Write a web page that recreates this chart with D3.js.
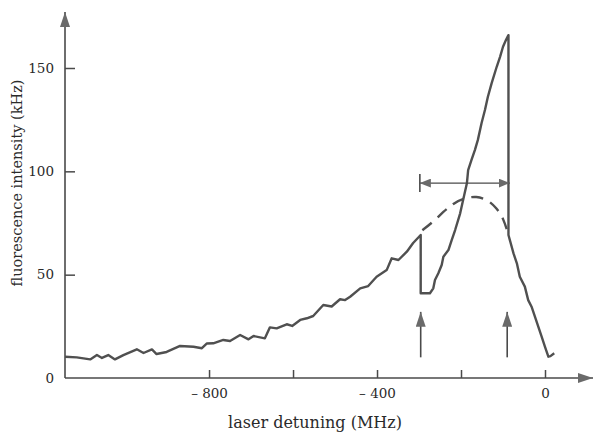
<!DOCTYPE html>
<html>
<head>
<meta charset="utf-8">
<script src="https://cdn.jsdelivr.net/npm/d3@7"></script>
<style>
	body { margin: 0; background: #fff; }
	svg text { font-family: "DejaVu Serif", "Liberation Serif", serif; fill: #2a2a2a; }
</style>
</head>
<body>
<svg id="chart" width="594" height="434"></svg>
<script>
// detuning in MHz, fluorescence in kHz
var detuning = [-1143, -1115, -1083, -1067, -1055, -1040, -1024, -1004, -972, -956, -936, -925, -901, -869, -837, -817, -805, -790, -766, -750, -726, -706, -694, -667, -655, -639, -615, -602, -583, -567, -552, -528, -508, -488, -476, -464, -440, -421, -401, -377, -365, -349, -329, -314, -296,
	-296, -274, -266, -262, -254, -246, -242, -230, -222, -214, -202, -195, -186, -183, -175, -167, -160, -151, -143, -136, -127, -115, -107, -100, -93, -87,
	-87, -75, -67, -60, -48, -40, -32, -24, -16, -8, 0, 8, 13, 22];
var intensity = [10.3, 10.0, 9.0, 11.1, 9.7, 11.1, 9.0, 11.1, 13.9, 12.1, 13.8, 11.6, 12.6, 15.5, 15.1, 14.4, 16.7, 16.8, 18.4, 17.9, 20.8, 18.7, 20.3, 19.2, 24.5, 24.0, 26.0, 25.2, 28.1, 28.9, 30.0, 35.3, 34.6, 38.1, 37.7, 39.3, 43.4, 44.5, 49.0, 52.2, 57.9, 57.1, 61.1, 65.3, 69.2,
	41.0, 41.0, 43.4, 47.4, 50.7, 54.7, 58.7, 61.9, 66.8, 71.6, 79.7, 86.1, 94.2, 100.6, 105.5, 110.3, 115.1, 123.4, 129.7, 136.1, 142.7, 150.6, 155.4, 160.3, 163.5, 165.9,
	69.2, 60.3, 55.5, 49.0, 44.2, 37.7, 34.5, 29.7, 24.8, 20.0, 15.1, 10.3, 10.6, 12.0];

// dashed curve bridging the two jumps
var dashDetuning = [-292, -266, -242, -218, -195, -163, -135, -115, -99, -87];
var dashIntensity = [71.5, 75.6, 80.5, 84.5, 86.9, 88.1, 86.1, 82.1, 77.3, 69.2];

// width marker and the two jump arrows
var spanEnds = [-298, -84];
var spanLevel = 94.3;
var jumpArrows = [-296, -90];
var jumpFrom = 10, jumpTo = 32;

var xTicks = [-800, -600, -400, -200, 0];
var yTicks = [0, 50, 100, 150];

var svg = d3.select("#chart");
var ink = "#4a4a4a";

var x = d3.scaleLinear().domain([-1143, 0]).range([65, 545]);
var y = d3.scaleLinear().domain([0, 150]).range([378, 68]);

var defs = svg.append("defs");
function arrowHead(id, w, h, fill) {
	defs.append("marker")
		.attr("id", id)
		.attr("viewBox", "0 0 " + h + " " + w)
		.attr("refX", h).attr("refY", w / 2)
		.attr("markerWidth", h).attr("markerHeight", w)
		.attr("markerUnits", "userSpaceOnUse")
		.attr("orient", "auto-start-reverse")
		.append("path")
		.attr("d", "M0,0 L" + h + "," + (w / 2) + " L0," + w + " Z")
		.attr("fill", fill);
}
arrowHead("axisHead", 10, 15, "#6a6a6a");
arrowHead("smallHead", 9, 11, "#6a6a6a");

// axes lines with arrows
svg.append("line")
	.attr("x1", 65).attr("y1", y(0)).attr("x2", 65).attr("y2", 12)
	.attr("stroke", ink).attr("stroke-width", 1.6)
	.attr("marker-end", "url(#axisHead)");
svg.append("line")
	.attr("x1", 65).attr("y1", y(0)).attr("x2", 593).attr("y2", y(0))
	.attr("stroke", ink).attr("stroke-width", 1.6)
	.attr("marker-end", "url(#axisHead)");

var xAxis = svg.append("g")
	.attr("transform", "translate(0," + y(0) + ")")
	.call(d3.axisBottom(x).tickValues(xTicks).tickSize(-8).tickPadding(10)
		.tickFormat(function (d) {
			if (d % 400 != 0) return "";
			return d < 0 ? "\u2013 " + Math.abs(d) : d;
		}));
xAxis.select(".domain").remove();
xAxis.selectAll("line").attr("stroke", ink).attr("stroke-width", 1.5);
xAxis.selectAll("text").attr("font-size", 13.5).attr("fill", "#2a2a2a");

var yAxis = svg.append("g")
	.attr("transform", "translate(65,0)")
	.call(d3.axisLeft(y).tickValues(yTicks).tickSize(-10).tickPadding(11));
yAxis.select(".domain").remove();
yAxis.selectAll("line").attr("stroke", ink).attr("stroke-width", 1.5)
	.filter(function (d) { return d == 0; }).remove();
yAxis.selectAll("text").attr("font-size", 13.5).attr("fill", "#2a2a2a");

// axis titles
svg.append("text")
	.attr("transform", "translate(22,183) rotate(-90)")
	.attr("text-anchor", "middle")
	.attr("font-size", 14.5)
	.text("fluorescence intensity (kHz)");
svg.append("text")
	.attr("x", 315).attr("y", 428)
	.attr("text-anchor", "middle")
	.attr("font-size", 16)
	.text("laser detuning (MHz)");

// measured trace
var pts = detuning.map(function (d, i) { return [d, intensity[i]]; });
var line = d3.line().x(function (d) { return x(d[0]); }).y(function (d) { return y(d[1]); });
svg.append("path")
	.datum(pts)
	.attr("d", line)
	.attr("fill", "none")
	.attr("stroke", "#505050")
	.attr("stroke-width", 2.4)
	.attr("stroke-linejoin", "round");

var dashPts = dashDetuning.map(function (d, i) { return [d, dashIntensity[i]]; });
svg.append("path")
	.datum(dashPts)
	.attr("d", line.curve(d3.curveBasis))
	.attr("fill", "none")
	.attr("stroke", "#505050")
	.attr("stroke-width", 2.4)
	.attr("stroke-dasharray", "12,8");

// horizontal width marker
svg.append("line")
	.attr("x1", x(spanEnds[0])).attr("x2", x(spanEnds[0]))
	.attr("y1", y(spanLevel) - 9).attr("y2", y(spanLevel) + 9)
	.attr("stroke", ink).attr("stroke-width", 1.6);
svg.append("line")
	.attr("x1", x(spanEnds[0])).attr("x2", x(spanEnds[1]))
	.attr("y1", y(spanLevel)).attr("y2", y(spanLevel))
	.attr("stroke", ink).attr("stroke-width", 1.4)
	.attr("marker-start", "url(#smallHead)")
	.attr("marker-end", "url(#smallHead)");

// arrows under the jumps
svg.selectAll(".jump")
	.data(jumpArrows)
	.enter()
	.append("line")
	.attr("class", "jump")
	.attr("x1", function (d) { return x(d); })
	.attr("x2", function (d) { return x(d); })
	.attr("y1", y(jumpFrom)).attr("y2", y(jumpTo))
	.attr("stroke", ink).attr("stroke-width", 1.6)
	.attr("marker-end", "url(#axisHead)");
</script>
</body>
</html>
